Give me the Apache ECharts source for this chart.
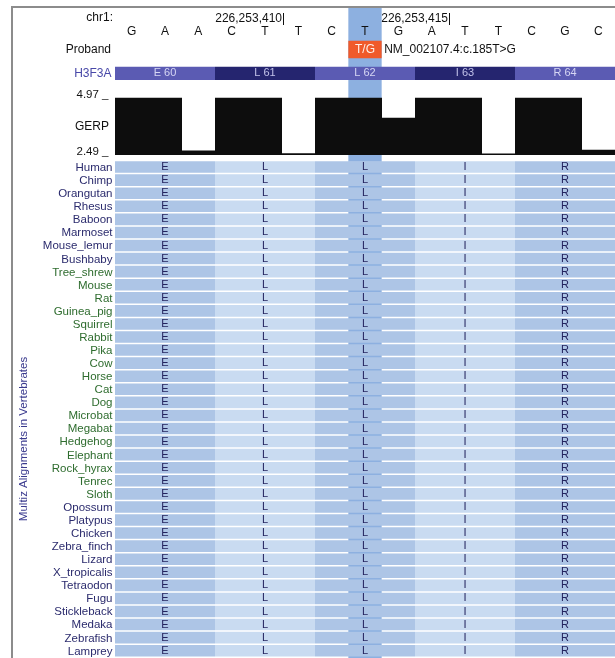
<!DOCTYPE html>
<html>
<head>
<meta charset="utf-8">
<title>H3F3A p.L62 locus</title>
<script src="https://cdn.jsdelivr.net/npm/echarts@6/dist/echarts.min.js"></script>
<style>
  html, body { margin: 0; padding: 0; background: #ffffff; }
  #chart { width: 615px; height: 658px; }
</style>
</head>
<body>
<div id="chart"></div>
<script>
// ---- locus data ----
const chromosome = 'chr1:';
const firstBasePosition = 226253406;
const bases = ['G', 'A', 'A', 'C', 'T', 'T', 'C', 'T', 'G', 'A', 'T', 'T', 'C', 'G', 'C'];
const rulerPositions = [226253410, 226253415];

// ---- proband variant ----
const probandLabel = 'Proband';
const variantPosition = 226253413;
const variantAlleles = 'T/G';
const variantName = 'NM_002107.4:c.185T>G';

// ---- gene track (codons, first codon starts at first base) ----
const geneName = 'H3F3A';
const codonLabels = ['E 60', 'L 61', 'L 62', 'I 63', 'R 64'];

// ---- GERP conservation per base ----
const gerpScores = [4.97, 4.97, 2.68, 4.97, 4.97, 2.57, 4.97, 4.97, 4.10, 4.97, 4.97, 2.56, 4.97, 4.97, 2.72];
const gerpTicks = [2.49, 4.97];

// ---- Multiz alignment ----
const alignmentTitle = 'Multiz Alignments in Vertebrates';
const species = [
  'Human', 'Chimp', 'Orangutan', 'Rhesus', 'Baboon', 'Marmoset', 'Mouse_lemur', 'Bushbaby',
  'Tree_shrew', 'Mouse', 'Rat', 'Guinea_pig', 'Squirrel', 'Rabbit', 'Pika', 'Cow', 'Horse',
  'Cat', 'Dog', 'Microbat', 'Megabat', 'Hedgehog', 'Elephant', 'Rock_hyrax', 'Tenrec', 'Sloth',
  'Opossum', 'Platypus', 'Chicken', 'Zebra_finch', 'Lizard', 'X_tropicalis', 'Tetraodon',
  'Fugu', 'Stickleback', 'Medaka', 'Zebrafish', 'Lamprey'
];
const speciesClade = [
  'primate', 'primate', 'primate', 'primate', 'primate', 'primate', 'primate', 'primate',
  'placental', 'placental', 'placental', 'placental', 'placental', 'placental', 'placental',
  'placental', 'placental', 'placental', 'placental', 'placental', 'placental', 'placental',
  'placental', 'placental', 'placental', 'placental',
  'vertebrate', 'vertebrate', 'vertebrate', 'vertebrate', 'vertebrate', 'vertebrate',
  'vertebrate', 'vertebrate', 'vertebrate', 'vertebrate', 'vertebrate', 'vertebrate'
];
const residues = [
  'ELLIR', 'ELLIR', 'ELLIR', 'ELLIR', 'ELLIR', 'ELLIR', 'ELLIR', 'ELLIR',
  'ELLIR', 'ELLIR', 'ELLIR', 'ELLIR', 'ELLIR', 'ELLIR', 'ELLIR', 'ELLIR',
  'ELLIR', 'ELLIR', 'ELLIR', 'ELLIR', 'ELLIR', 'ELLIR', 'ELLIR', 'ELLIR',
  'ELLIR', 'ELLIR', 'ELLIR', 'ELLIR', 'ELLIR', 'ELLIR', 'ELLIR', 'ELLIR',
  'ELLIR', 'ELLIR', 'ELLIR', 'ELLIR', 'ELLIR', 'ELLIR'
];

// ---- styling ----
const FONT = "'Liberation Sans', Arial, Helvetica, sans-serif";
const cladeColors = { primate: '#2b2b6d', placental: '#2e6c2e', vertebrate: '#2b2b6d' };
const codonBarColors = ['#5b5bb3', '#25256f'];
const cellColors = ['#adc5e6', '#c9dbf1'];
const highlightColor = '#8db0e0';
const ROW_PITCH = 13.12;
const CELL_GAP = 1.5;

const variantIndex = variantPosition - firstBasePosition;
const formatPos = v => String(v).replace(/\B(?=(\d{3})+(?!\d))/g, ',');

const chart = echarts.init(document.getElementById('chart'), null, { renderer: 'canvas' });

const gridDefs = [
  { top: 7, height: 154.3 },            // 0 highlight column behind header tracks
  { top: 11, height: 14 },              // 1 ruler
  { top: 23, height: 17 },              // 2 bases
  { top: 40.7, height: 17.6 },          // 3 proband
  { top: 66.7, height: 13.3 },          // 4 gene
  { top: 97.7, height: 57.3 },          // 5 GERP
  { top: 161.3, height: species.length * ROW_PITCH } // 6 alignment
];
const grid = gridDefs.map(g => ({ left: 115, right: 0, top: g.top, height: g.height, containLabel: false }));
const xAxis = gridDefs.map((g, i) => ({ gridIndex: i, type: 'value', min: 0, max: bases.length, show: false }));

const hiddenValueY = i => ({ gridIndex: i, type: 'value', min: 0, max: 1, show: false });
const labelCategoryY = (i, name, color, margin, size) => ({
  gridIndex: i, type: 'category', data: [name],
  axisLine: { show: false }, axisTick: { show: false }, splitLine: { show: false },
  axisLabel: { color: color, fontSize: size, fontFamily: FONT, margin: margin }
});

const yAxis = [
  hiddenValueY(0),
  labelCategoryY(1, chromosome, '#111111', 2, 12),
  hiddenValueY(2),
  labelCategoryY(3, probandLabel, '#111111', 4, 12),
  labelCategoryY(4, geneName, '#4848a8', 3.5, 12),
  {
    gridIndex: 5, type: 'value', min: gerpTicks[0], max: gerpTicks[1],
    axisLine: { show: false }, axisTick: { show: false }, splitLine: { show: false },
    axisLabel: {
      customValues: gerpTicks,
      formatter: v => v.toFixed(2) + ' _',
      color: '#111111', fontSize: 11.5, fontFamily: FONT, margin: 6.5,
      verticalAlign: 'bottom', lineHeight: 6
    },
    name: 'GERP', nameLocation: 'middle', nameRotate: 0, nameGap: 6, nameMoveOverlap: false,
    nameTextStyle: { color: '#111111', fontSize: 12, fontFamily: FONT, align: 'right', verticalAlign: 'middle', lineHeight: 14, padding: [0, 0, 6, 0] }
  },
  {
    gridIndex: 6, type: 'category', data: species, inverse: true,
    axisLine: { show: false }, axisTick: { show: false }, splitLine: { show: false },
    axisLabel: {
      interval: 0, fontSize: 11.5, fontFamily: FONT, margin: 2.5,
      color: (value, index) => cladeColors[speciesClade[index]]
    }
  }
];

const txt = (text, x, y, fill, size, align) => ({
  type: 'text',
  style: { text: text, x: x, y: y, fill: fill, font: size + 'px ' + FONT, align: align || 'center', verticalAlign: 'middle' }
});

const series = [
  // highlighted variant column over the header tracks
  {
    type: 'custom', xAxisIndex: 0, yAxisIndex: 0, z: 1, silent: true,
    data: [[variantIndex]],
    renderItem: (params, api) => {
      const x0 = api.coord([api.value(0), 1]);
      const x1 = api.coord([api.value(0) + 1, 0]);
      return { type: 'rect', shape: { x: x0[0], y: x0[1], width: x1[0] - x0[0], height: x1[1] - x0[1] }, style: { fill: highlightColor } };
    }
  },
  // ruler coordinates with tick marks
  {
    type: 'custom', xAxisIndex: 1, yAxisIndex: 1, z: 3, silent: true,
    data: rulerPositions.map(p => [p - firstBasePosition, 0]),
    renderItem: (params, api) => {
      const x = Math.round(api.coord([api.value(0) + 1, 0])[0]) + 0.5;
      const cs = params.coordSys;
      return {
        type: 'group', children: [
          { type: 'line', shape: { x1: x + 1, y1: cs.y + 2, x2: x + 1, y2: cs.y + cs.height }, style: { stroke: '#111111', lineWidth: 1 } },
          txt(formatPos(rulerPositions[params.dataIndex]), x - 0.5, cs.y + cs.height / 2 + 1, '#111111', 12, 'right')
        ]
      };
    }
  },
  // reference bases
  {
    type: 'custom', xAxisIndex: 2, yAxisIndex: 2, z: 3, silent: true,
    data: bases.map((b, i) => [i, 0.5]),
    renderItem: (params, api) => {
      const p = api.coord([api.value(0) + 0.5, api.value(1)]);
      return txt(bases[params.dataIndex], p[0], p[1], '#111111', 12);
    }
  },
  // proband variant
  {
    type: 'custom', xAxisIndex: 3, yAxisIndex: 3, z: 3, silent: true,
    data: [[variantIndex, 0]],
    renderItem: (params, api) => {
      const cs = params.coordSys;
      const x0 = api.coord([api.value(0), 0])[0];
      const x1 = api.coord([api.value(0) + 1, 0])[0];
      const yc = cs.y + cs.height / 2;
      return {
        type: 'group', children: [
          { type: 'rect', shape: { x: x0, y: cs.y, width: x1 - x0, height: cs.height }, style: { fill: '#f05a2a' } },
          txt(variantAlleles, (x0 + x1) / 2, yc, '#fff1ea', 12),
          txt(variantName, x1 + 2.5, yc, '#111111', 12, 'left')
        ]
      };
    }
  },
  // gene codons
  {
    type: 'custom', xAxisIndex: 4, yAxisIndex: 4, z: 3, silent: true,
    data: codonLabels.map((c, i) => [i * 3, 0]),
    renderItem: (params, api) => {
      const cs = params.coordSys;
      const i = params.dataIndex;
      const x0 = Math.round(api.coord([api.value(0), 0])[0]);
      const x1 = Math.round(api.coord([api.value(0) + 3, 0])[0]);
      return {
        type: 'group', children: [
          { type: 'rect', shape: { x: x0, y: cs.y, width: x1 - x0, height: cs.height }, style: { fill: codonBarColors[i % 2] } },
          txt(codonLabels[i], (x0 + x1) / 2, cs.y + cs.height / 2, i % 2 ? '#c2c2ea' : '#d6d6f4', 11)
        ]
      };
    }
  },
  // GERP bars
  {
    type: 'custom', xAxisIndex: 5, yAxisIndex: 5, z: 3, silent: true,
    data: gerpScores.map((v, i) => [i, v]),
    renderItem: (params, api) => {
      const top = api.coord([api.value(0), api.value(1)]);
      const bot = api.coord([api.value(0) + 1, gerpTicks[0]]);
      const x0 = Math.round(top[0]), x1 = Math.round(bot[0]);
      return { type: 'rect', shape: { x: x0, y: top[1], width: x1 - x0, height: bot[1] - top[1] }, style: { fill: '#0d0d0d' } };
    }
  },
  // highlighted column through the alignment
  {
    type: 'custom', xAxisIndex: 6, yAxisIndex: 6, z: 1, silent: true,
    data: [[variantIndex, 0]],
    renderItem: (params, api) => {
      const cs = params.coordSys;
      const x0 = api.coord([api.value(0), 0])[0];
      const x1 = api.coord([api.value(0) + 1, 0])[0];
      return { type: 'rect', shape: { x: x0, y: cs.y, width: x1 - x0, height: cs.height }, style: { fill: highlightColor } };
    }
  },
  // alignment cells
  {
    type: 'custom', xAxisIndex: 6, yAxisIndex: 6, z: 3, silent: true,
    data: (() => {
      const d = [];
      species.forEach((s, si) => {
        for (let c = 0; c < residues[si].length; c++) d.push([c * 3, si, c]);
      });
      return d;
    })(),
    renderItem: (params, api) => {
      const s = api.value(1), c = api.value(2);
      const p0 = api.coord([api.value(0), s]);
      const p1 = api.coord([api.value(0) + 3, s]);
      const band = api.size([0, 1])[1];
      const top = p0[1] - band / 2;
      const h = band - CELL_GAP;
      const x0 = Math.round(p0[0]), x1 = Math.round(p1[0]);
      return {
        type: 'group', children: [
          { type: 'rect', shape: { x: x0, y: top, width: x1 - x0, height: h }, style: { fill: cellColors[c % 2] } },
          txt(residues[s][c], (p0[0] + p1[0]) / 2, top + h / 2, '#23235e', 11)
        ]
      };
    }
  }
];

chart.setOption({
  backgroundColor: '#ffffff',
  animation: false,
  grid: grid,
  xAxis: xAxis,
  yAxis: yAxis,
  series: series,
  graphic: [
    {
      type: 'polyline', z: 100, silent: true,
      shape: { points: [[12, 658], [12, 7], [615, 7]] },
      style: { stroke: '#8c8c8c', lineWidth: 2, fill: null }
    },
    {
      type: 'text', x: 24, y: 439, rotation: Math.PI / 2, silent: true,
      style: { text: alignmentTitle, fill: '#3a3a8e', font: '11.5px ' + FONT, align: 'center', verticalAlign: 'middle' }
    }
  ]
});
</script>
</body>
</html>
